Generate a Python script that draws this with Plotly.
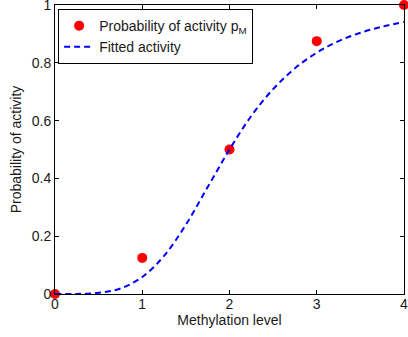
import plotly.graph_objects as go

methylation = [0, 1, 2, 3, 4]
prob_activity = [0, 0.125, 0.5, 0.875, 1.0]

fit_x = [0, 0.25, 0.5, 0.75, 1.0, 1.25, 1.5, 1.75, 2.0, 2.25, 2.5, 2.75, 3.0, 3.25, 3.5, 3.75, 4.0]
fit_y = [0, 0.0002, 0.004, 0.019, 0.059, 0.132, 0.240, 0.370, 0.500, 0.616, 0.709, 0.781, 0.835, 0.875, 0.904, 0.925, 0.941]

font = "Liberation Sans, Arial, Helvetica, sans-serif"

fig = go.Figure()
fig.add_trace(go.Scatter(
    x=methylation, y=prob_activity, mode="markers",
    marker=dict(color="#ff0000", size=10),
    name="Probability of activity p<sub>M</sub>", cliponaxis=False))
fig.add_trace(go.Scatter(
    x=fit_x, y=fit_y, mode="lines", line=dict(color="#0000ff", width=2, dash="6px,4px", shape="spline"),
    name="Fitted activity"))

axis_common = dict(showgrid=False, zeroline=False, showline=True, linecolor="black", linewidth=1,
                   mirror="ticks", ticks="inside", ticklen=4, tickcolor="black",
                   ticklabeloverflow="allow", automargin=False,
                   tickfont=dict(family=font, size=14, color="#1a1a1a"))
fig.update_layout(
    width=408, height=337,
    margin=dict(l=55, r=4, t=5, b=43),
    paper_bgcolor="white", plot_bgcolor="white",
    font=dict(family=font, size=14, color="#1a1a1a"),
    showlegend=True,
    legend=dict(x=0.009, y=0.986, xanchor="left", yanchor="top", bordercolor="black", borderwidth=1,
                bgcolor="white", font=dict(family=font, size=14, color="#1a1a1a"),
                tracegroupgap=0, itemwidth=30),
    xaxis=dict(range=[0, 4], tickvals=[0, 1, 2, 3, 4], ticklabelstandoff=-3,
               title=dict(text="Methylation level", standoff=0, font=dict(family=font, size=14)),
               **axis_common),
    yaxis=dict(range=[0, 1], tickvals=[0, 0.2, 0.4, 0.6, 0.8, 1], ticktext=["0", "0.2", "0.4", "0.6", "0.8", "1"],
               title=dict(text="Probability of activity", standoff=6, font=dict(family=font, size=14)),
               **axis_common),
)
fig.write_html("out.html", config={"displayModeBar": False},
               post_script="document.body.style.margin='0';")
